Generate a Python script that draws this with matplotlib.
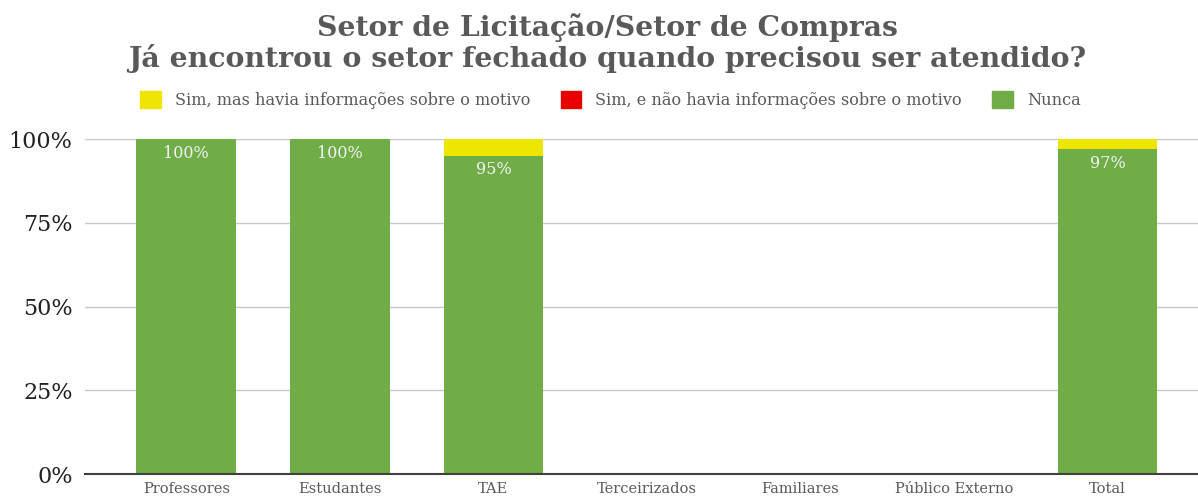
import matplotlib
matplotlib.use("Agg")
import matplotlib.pyplot as plt
from matplotlib.patches import Patch

categories = ["Professores", "Estudantes", "TAE", "Terceirizados", "Familiares", "Público Externo", "Total"]
nunca = [100, 100, 95, 0, 0, 0, 97]
sim_com_info = [0, 0, 5, 0, 0, 0, 3]
sim_sem_info = [0, 0, 0, 0, 0, 0, 0]
series_names = ["Sim, mas havia informações sobre o motivo", "Sim, e não havia informações sobre o motivo", "Nunca"]
colors = ["#EEE600", "#E60000", "#70AD47"]

plt.rcParams['font.family'] = ['DejaVu Serif']
fig = plt.figure(figsize=(11.98, 4.97), dpi=100)
ax = fig.add_axes([0.071, 0.046, 0.929, 0.674])

x = list(range(len(categories)))
w = 0.65
ax.bar(x, nunca, width=w, color=colors[2], zorder=3)
b1 = [n for n in nunca]
ax.bar(x, sim_sem_info, width=w, bottom=b1, color=colors[1], zorder=3)
b2 = [n + s for n, s in zip(nunca, sim_sem_info)]
ax.bar(x, sim_com_info, width=w, bottom=b2, color=colors[0], zorder=3)

for xi, v in zip(x, nunca):
    if v > 0:
        ax.text(xi, v - 1.6, f"{v}%", ha="center", va="top", color="#F2F2F2", fontsize=11.5, zorder=4)

ax.set_xlim(-0.66, 6.59)
ax.set_ylim(0, 100)
ax.set_yticks([0, 25, 50, 75, 100])
ax.set_yticklabels(["0%", "25%", "50%", "75%", "100%"], fontsize=16, color="#222222")
ax.set_xticks(x)
ax.set_xticklabels(categories, fontsize=10.5, color="#595959")
ax.tick_params(axis="both", length=0)
ax.tick_params(axis="x", pad=6)
ax.tick_params(axis="y", pad=9)
ax.grid(axis="y", color="#C8C8C8", linewidth=1, zorder=0)
for s in ["top", "right", "left"]:
    ax.spines[s].set_visible(False)
ax.spines["bottom"].set_color("#404040")
ax.spines["bottom"].set_linewidth(1.5)
ax.spines["bottom"].set_zorder(5)

handles = [Patch(color=c) for c in colors]
fig.legend(handles, series_names, loc="center", bbox_to_anchor=(0.5096, 0.799), ncol=3, frameon=False,
           fontsize=11.6, labelcolor="#595959", handlelength=1.3, handleheight=1.25,
           columnspacing=1.86, handletextpad=0.87)

fig.text(0.507, 0.945, "Setor de Licitação/Setor de Compras", ha="center", va="center",
         fontsize=20.3, fontweight="bold", color="#595959")
fig.text(0.507, 0.882, "Já encontrou o setor fechado quando precisou ser atendido?", ha="center", va="center",
         fontsize=20.4, fontweight="bold", color="#595959")

fig.savefig("out.png", dpi=100)
